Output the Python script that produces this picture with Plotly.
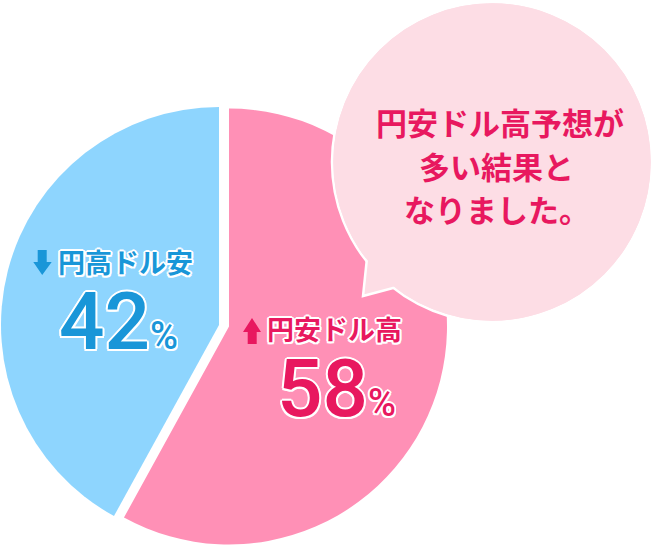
import plotly.graph_objects as go

W, H = 655, 546

# data
labels = ["円安ドル高", "円高ドル安"]
values = [58, 42]
slice_colors = ["#ff90b6", "#8ed5fe"]
text_colors = ["#e8185f", "#1996d8"]
bubble_lines = ["円安ドル高予想が", "多い結果と", "なりました。"]

JP = "Noto Sans CJK JP"
NUM = "Roboto"
OUTLINE = ("2px 0 0 #fff, -2px 0 0 #fff, 0 2px 0 #fff, 0 -2px 0 #fff, "
           "1.5px 1.5px 0 #fff, -1.5px -1.5px 0 #fff, 1.5px -1.5px 0 #fff, -1.5px 1.5px 0 #fff")


# pixel -> paper helpers (figure has no margins)
def px(x):
    return x / W


def py(y):
    return 1 - y / H


fig = go.Figure()

# the pie is drawn twice, each copy shows one slice,
# so the pink slice can sit a little off the blue one's centre
R = 218
centers = [(229, 326.5), (219, 325)]
for i, (cx, cy) in enumerate(centers):
    cols = ["rgba(0,0,0,0)"] * len(values)
    cols[i] = slice_colors[i]
    fig.add_trace(go.Pie(
        labels=labels,
        values=values,
        sort=False,
        direction="clockwise",
        rotation=0,
        marker=dict(colors=cols, line=dict(width=0)),
        textinfo="none",
        hoverinfo="label+percent",
        domain=dict(x=[px(cx - R), px(cx + R)], y=[py(cy + R), py(cy - R)]),
        showlegend=False,
    ))

# speech bubble
bub_fill = "#fddde5"
bcx, bcy, br = 492, 162, 160
shapes = [
    dict(type="circle", xref="paper", yref="paper",
         x0=px(bcx - br), x1=px(bcx + br), y0=py(bcy + br), y1=py(bcy - br),
         fillcolor=bub_fill, line=dict(color="white", width=2.5), layer="above"),
    dict(type="path", xref="paper", yref="paper",
         path=f"M {px(367)},{py(258)} L {px(363)},{py(296)} L {px(397)},{py(287)} L {px(400)},{py(270)} Z",
         fillcolor=bub_fill, line=dict(color="white", width=2.5), layer="above"),
    dict(type="circle", xref="paper", yref="paper",
         x0=px(bcx - br + 1.3), x1=px(bcx + br - 1.3), y0=py(bcy + br - 1.3), y1=py(bcy - br + 1.3),
         fillcolor=bub_fill, line=dict(width=0), layer="above"),
]

# arrows next to the slice labels
shapes.append(dict(type="path", xref="paper", yref="paper",
                   path=(f"M {px(37.7)},{py(250)} L {px(46.7)},{py(250)} L {px(46.7)},{py(262)} "
                         f"L {px(51.7)},{py(262)} L {px(42.2)},{py(275)} L {px(33.3)},{py(262)} "
                         f"L {px(37.7)},{py(262)} Z"),
                   fillcolor=text_colors[1], line=dict(width=0), layer="above"))
shapes.append(dict(type="path", xref="paper", yref="paper",
                   path=(f"M {px(252)},{py(318)} L {px(261)},{py(332)} L {px(256.7)},{py(332)} "
                         f"L {px(256.7)},{py(344)} L {px(247.7)},{py(344)} L {px(247.7)},{py(332)} "
                         f"L {px(243)},{py(332)} Z"),
                   fillcolor=text_colors[0], line=dict(width=0), layer="above"))

annotations = []

# bubble text
for line, (x, y) in zip(bubble_lines, [(500, 122), (497, 165), (497, 209)]):
    annotations.append(dict(
        text=line, x=px(x), y=py(y), xref="paper", yref="paper", showarrow=False,
        xanchor="center", yanchor="middle",
        font=dict(family=JP, size=31, color=text_colors[0], weight="bold"),
    ))

# slice labels
label_pos = [(334.5, 328), (125, 261.5)]
pct_pos = [(336, 389), (118, 322)]
for i in range(len(labels)):
    annotations.append(dict(
        text=labels[i], x=px(label_pos[i][0]), y=py(label_pos[i][1]),
        xref="paper", yref="paper", showarrow=False, xanchor="center", yanchor="middle",
        font=dict(family=JP, size=27, color=text_colors[i], weight="bold", shadow=OUTLINE),
    ))
    # box height trimmed so it does not reach up into the label above
    annotations.append(dict(
        text=f"{values[i]}<span style='font-size:38px'>%</span>",
        x=px(pct_pos[i][0]), y=py(pct_pos[i][1]),
        xref="paper", yref="paper", showarrow=False, xanchor="center", yanchor="middle",
        height=76, valign="middle",
        font=dict(family=NUM, size=80, color=text_colors[i], weight=500, shadow=OUTLINE),
    ))

fig.update_layout(
    width=W,
    height=H,
    margin=dict(l=0, r=0, t=0, b=0),
    paper_bgcolor="white",
    plot_bgcolor="white",
    shapes=shapes,
    annotations=annotations,
    showlegend=False,
)

# drop the browser's default 8px body margin so the figure fills the window
fig.write_html("out.html", config={"displayModeBar": False},
               post_script="document.body.style.margin = '0';")
